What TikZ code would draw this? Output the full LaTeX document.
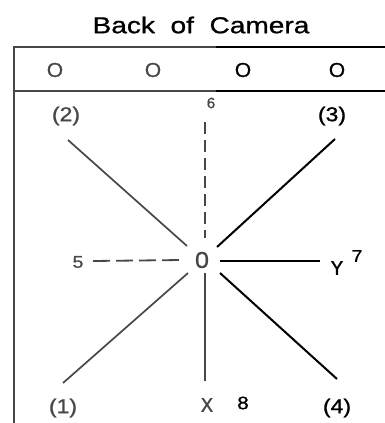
\documentclass[tikz,border=0pt]{standalone}
\usepackage{fontspec}
\usetikzlibrary{calc}
\setmainfont[FakeBold=0.9]{Liberation Sans}
\newfontfamily\monof[FakeBold=0.7]{Liberation Mono}
\colorlet{lgray}{black!72}
\begin{document}
\begin{tikzpicture}[x=1pt,y=-1pt,
  lbl/.style={inner sep=0pt,xscale=1.15,font=\fontsize{20}{20}\selectfont},
  boxo/.style={inner sep=0pt,xscale=1.05,font=\fontsize{20}{20}\selectfont},
  small/.style={inner sep=0pt,font=\fontsize{15}{15}\selectfont},
  mono/.style={inner sep=0pt,font=\monof\fontsize{21}{21}\selectfont},
  ray/.style={line width=2pt},
  lray/.style={line width=1.7pt,draw=lgray},
  vdray/.style={line width=1.8pt,draw=lgray,dash pattern=on 12pt off 6pt},
  hdray/.style={line width=1.8pt,draw=lgray,dash pattern=on 17pt off 6pt}]
\useasboundingbox (0,0) rectangle (385,423);
\node[inner sep=0pt,xscale=1.22,font=\fontsize{23}{23}\selectfont] (title) at (201,25) {Back\ \ of\ \ Camera};
\draw[line width=1.8pt,lgray] (14,47) -- (216,47);
\draw[line width=2.4pt] (216,47) -- (385,47);
\draw[line width=1.8pt,lgray] (14,91) -- (216,91);
\draw[line width=2.4pt] (216,91) -- (385,91);
\draw[line width=1.7pt,lgray] (14,46) -- (14,423);
\node[boxo,lgray] (o1) at (55,70) {O};
\node[boxo,lgray] (o2) at (153,70) {O};
\node[boxo] (o3) at (243,70) {O};
\node[boxo] (o4) at (337,70) {O};
\node[inner sep=0pt,xscale=1.1,lgray,font=\fontsize{23}{23}\selectfont] (c) at (202,260) {0};
\node[lbl,lgray] (l2) at (66,116) {(2)};
\node[lbl] (l3) at (332,116) {(3)};
\node[small,lgray] (l6) at (211,103) {6};
\node[lbl,lgray,font=\fontsize{17}{17}\selectfont] (l5) at (78,262) {5};
\node[mono] (ly) at (337,268) {Y};
\node[lbl,font=\fontsize{17}{17}\selectfont] (l7) at (357,256) {7};
\node[mono,lgray] (lx) at (207,405) {X};
\node[lbl,font=\fontsize{18}{18}\selectfont] (l8) at (243,403) {8};
\node[lbl,lgray] (l1) at (63,408) {(1)};
\node[lbl] (l4) at (337,408) {(4)};
\coordinate (e2) at (68,140);
\coordinate (e3) at (335,139);
\coordinate (e6) at (205,122);
\coordinate (e5) at (93,261);
\coordinate (e7) at (320,261);
\coordinate (e4) at (337,379);
\coordinate (e8) at (205,381);
\coordinate (e1) at (63,383);
\draw[lray] (e2) -- ($(c)+(-15,-14)$);
\draw[ray] (e3) -- ($(c)+(15,-13)$);
\draw[vdray] (e6) -- ($(c)+(3,-22)$);
\draw[hdray] (e5) -- ($(c)+(-20,0)$);
\draw[ray] ($(c)+(18,1)$) -- (e7);
\draw[ray] ($(c)+(18,13)$) -- (e4);
\draw[lray] ($(c)+(3,13)$) -- (e8);
\draw[lray] ($(c)+(-14,13)$) -- (e1);
\end{tikzpicture}
\end{document}
